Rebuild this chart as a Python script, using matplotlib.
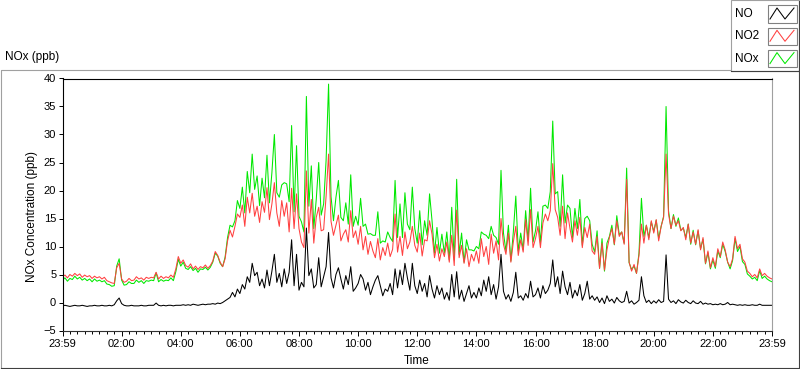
import numpy as np
import matplotlib
matplotlib.use("Agg")
import matplotlib.pyplot as plt
from matplotlib.lines import Line2D
from matplotlib.patches import Rectangle

plt.rcParams['font.family'] = ['Liberation Sans', 'DejaVu Sans']

W, H = 800, 369

# 5 minute readings, 23:59 -> 23:59 (ppb)
no2 = [
    4.6, 4.9, 4.4, 5.0, 4.7, 5.2, 4.8, 5.1, 4.5, 4.9, 4.6, 4.8,
    4.3, 4.7, 4.4, 4.6, 4.2, 4.5, 3.9, 3.7, 3.5, 3.4, 6.2, 7.0,
    4.2, 3.6, 3.8, 4.3, 3.9, 4.0, 4.6, 4.2, 4.4, 4.0, 4.5, 4.3,
    4.5, 4.4, 5.4, 4.2, 4.7, 4.3, 4.6, 4.4, 4.9, 4.5, 6.0, 8.2,
    7.0, 7.6, 6.6, 6.3, 6.9, 6.0, 6.5, 5.9, 6.4, 6.2, 6.7, 6.1,
    6.6, 7.4, 9.1, 8.4, 7.2, 6.4, 7.8, 11.0, 12.9, 11.7, 13.6, 15.8,
    15.2, 17.4, 13.6, 18.8, 16.0, 19.5, 15.4, 17.2, 14.3, 18.0, 16.1, 20.5,
    14.8, 17.6, 21.4, 16.0, 13.6, 18.2, 15.4, 17.8, 12.6, 20.4, 13.2, 19.4,
    13.2, 10.8, 9.8, 23.5, 12.4, 18.4, 10.6, 15.2, 17.0, 12.8, 13.0, 19.0,
    26.5, 14.5, 12.0, 13.8, 15.6, 11.0, 12.2, 13.0, 10.8, 16.4, 11.6, 12.8,
    10.4, 13.6, 9.4, 11.8, 8.6, 10.9, 9.2, 8.0, 11.4, 7.6, 9.8, 8.4,
    10.6, 8.2, 9.5, 15.8, 9.0, 11.8, 8.4, 12.6, 9.6, 10.8, 13.6, 10.2,
    9.0, 12.4, 8.3, 11.2, 11.0, 14.6, 12.2, 8.0, 10.4, 7.4, 9.6, 8.2,
    10.8, 7.2, 12.0, 6.6, 16.5, 8.0, 10.2, 7.0, 9.6, 6.4, 8.6, 7.4,
    9.2, 7.0, 11.4, 8.2, 10.0, 6.8, 12.2, 8.8, 11.0, 7.6, 15.0, 10.4,
    8.6, 12.4, 7.2, 10.8, 13.6, 8.4, 11.2, 9.0, 14.8, 10.2, 16.6, 9.8,
    11.4, 13.6, 9.8, 14.2, 15.8, 14.6, 16.4, 24.8, 16.6, 15.2, 12.0, 17.2,
    11.4, 16.0, 13.2, 10.8, 14.6, 12.0, 15.2, 9.8, 13.4, 11.6, 14.0, 9.2,
    8.6, 11.8, 6.1, 10.6, 5.8, 9.4, 11.6, 13.2, 10.4, 14.6, 11.8, 12.6,
    10.4, 22.0, 7.2, 5.6, 6.8, 5.2, 8.4, 14.0, 10.6, 13.8, 11.2, 14.6,
    12.4, 14.8, 11.0, 13.6, 15.2, 26.5, 15.8, 13.2, 15.4, 13.8, 14.6, 12.8,
    13.4, 11.2, 14.0, 10.6, 12.6, 10.4, 13.0, 9.4, 11.6, 7.0, 9.2, 6.2,
    8.0, 6.4, 9.6, 8.2, 10.8, 9.4, 7.2, 6.4, 7.8, 11.8, 9.6, 10.4,
    7.8, 7.2, 5.6, 5.2, 4.6, 5.0, 4.4, 6.0, 4.8, 5.2, 4.7, 4.4,
    4.2]

no = [
    -0.6, -0.5, -0.6, -0.7, -0.6, -0.5, -0.6, -0.6, -0.5, -0.6, -0.7, -0.6,
    -0.6, -0.5, -0.6, -0.6, -0.5, -0.6, -0.6, -0.5, -0.6, -0.4, 0.3, 0.8,
    -0.2, -0.5, -0.6, -0.6, -0.5, -0.6, -0.6, -0.6, -0.5, -0.6, -0.6, -0.5,
    -0.5, -0.5, -0.1, -0.5, -0.6, -0.5, -0.6, -0.5, -0.5, -0.6, -0.5, -0.5,
    -0.5, -0.4, -0.5, -0.4, -0.5, -0.3, -0.4, -0.5, -0.4, -0.3, -0.4, -0.3,
    -0.3, -0.2, -0.3, -0.1, -0.2, 0.0, 0.3, 0.6, 0.9, 1.8, 1.0, 2.4,
    1.6, 3.2, 2.4, 4.6, 3.6, 7.0, 4.8, 5.4, 3.0, 4.2, 2.6, 5.8,
    3.0, 5.6, 8.6, 3.6, 5.2, 2.8, 6.0, 3.4, 5.4, 11.2, 3.0, 8.6,
    2.2, 3.6, 2.8, 13.3, 4.8, 6.0, 2.6, 3.2, 8.0, 2.8, 4.6, 6.4,
    12.5, 4.4, 2.6, 5.0, 6.2, 4.2, 2.4, 4.8, 3.2, 6.4, 2.0, 2.6,
    3.4, 5.0, 4.2, 2.2, 3.6, 1.4, 2.8, 4.0, 4.8, 3.0, 1.2, 2.4,
    2.0, 3.4, 1.4, 6.0, 2.6, 5.8, 3.2, 7.0, 4.4, 2.2, 7.0, 3.0,
    1.6, 4.0, 2.0, 3.4, 1.0, 4.8, 2.4, 0.8, 3.0, 1.4, 2.6, 0.6,
    1.8, 0.4, 5.0, 1.0, 5.5, 0.6, 2.2, 0.2, 1.6, 3.0, 0.8, 1.8,
    0.8, 2.6, 1.2, 4.0, 2.0, 4.6, 1.4, 3.2, 0.6, 2.8, 8.6, 2.0,
    0.6, 1.4, 0.2, 1.8, 5.4, 0.8, 1.2, 0.4, 1.6, 0.8, 3.8, 1.0,
    1.4, 2.6, 0.8, 3.0, 1.6, 2.2, 3.4, 7.6, 2.8, 4.6, 1.6, 5.6,
    2.8, 1.4, 3.6, 0.8, 2.2, 1.2, 3.2, 0.4, 1.6, 3.8, 0.6, 1.2,
    0.4, 1.0, 0.0, 0.8, -0.2, 1.2, 0.2, 0.6, -0.1, 0.9, 0.3, 0.0,
    0.2, 2.0, -0.1, 0.3, -0.3, 0.0, 0.4, 4.6, 1.2, 0.0, 0.4, -0.2,
    0.3, -0.1, 0.5, 0.0, 0.2, 8.5, 0.6, 0.0, 0.3, -0.2, 0.5, 0.1,
    -0.1, 0.4, 0.0, -0.2, 0.3, -0.1, -0.2, 0.2, -0.3, -0.1, -0.3, -0.2,
    -0.4, -0.3, -0.4, -0.2, -0.4, -0.3, 0.0, -0.4, -0.3, -0.4, -0.5, -0.4,
    -0.5, -0.4, -0.5, -0.5, -0.4, -0.5, -0.5, -0.3, -0.5, -0.5, -0.5, -0.5,
    -0.5]

nox = [
    4.0, 4.4, 3.8, 4.3, 4.1, 4.7, 4.2, 4.5, 4.0, 4.3, 3.9, 4.2,
    3.7, 4.2, 3.8, 4.0, 3.7, 3.9, 3.3, 3.2, 2.9, 3.0, 6.5, 7.8,
    4.0, 3.1, 3.2, 3.7, 3.4, 3.4, 4.0, 3.6, 3.9, 3.4, 3.9, 3.8,
    4.0, 3.9, 5.3, 3.7, 4.1, 3.8, 4.0, 3.9, 4.4, 3.9, 5.5, 7.7,
    6.5, 7.2, 6.1, 5.9, 6.4, 5.7, 6.1, 5.4, 6.0, 5.9, 6.3, 5.8,
    6.3, 7.2, 8.8, 8.3, 7.0, 6.4, 8.1, 11.6, 13.8, 13.5, 14.6, 18.2,
    16.8, 20.6, 16.0, 23.4, 19.6, 26.5, 20.2, 22.6, 17.3, 22.2, 18.7, 26.3,
    17.8, 23.2, 30.0, 19.6, 18.8, 21.0, 21.4, 21.2, 18.0, 31.6, 16.2, 28.0,
    15.4, 14.4, 12.6, 36.8, 17.2, 24.4, 13.2, 18.4, 25.0, 15.6, 17.6, 25.4,
    39.0, 18.9, 14.6, 18.8, 21.8, 15.2, 14.6, 17.8, 14.0, 22.8, 13.6, 15.4,
    13.8, 18.6, 13.6, 14.0, 12.2, 12.3, 12.0, 12.0, 16.2, 10.6, 11.0, 10.8,
    12.6, 11.6, 10.9, 21.8, 11.6, 17.6, 11.6, 19.6, 14.0, 13.0, 20.6, 13.2,
    10.6, 16.4, 10.3, 14.6, 12.0, 19.4, 14.6, 8.8, 13.4, 8.8, 12.2, 8.8,
    12.6, 7.6, 17.0, 7.6, 22.0, 8.6, 12.4, 7.2, 11.2, 9.4, 9.4, 9.2,
    10.0, 9.6, 12.6, 12.2, 12.0, 11.4, 13.6, 12.0, 11.6, 10.4, 23.6, 12.4,
    9.2, 13.8, 7.4, 12.6, 19.0, 9.2, 12.4, 9.4, 16.4, 11.0, 20.4, 10.8,
    12.8, 16.2, 10.6, 17.2, 17.4, 16.8, 19.8, 32.4, 19.4, 19.8, 13.6, 22.8,
    14.2, 17.4, 16.8, 11.6, 16.8, 13.2, 18.4, 10.2, 15.0, 15.4, 14.6, 10.4,
    9.0, 12.8, 6.1, 11.4, 5.6, 10.6, 11.8, 13.8, 10.3, 15.5, 12.1, 12.6,
    10.6, 24.0, 7.1, 5.9, 6.5, 5.2, 8.8, 18.6, 11.8, 13.8, 11.6, 14.4,
    12.7, 14.7, 11.5, 13.6, 15.4, 35.0, 16.4, 13.2, 15.7, 13.6, 15.1, 12.9,
    13.3, 11.6, 14.0, 10.4, 12.9, 10.3, 12.8, 9.6, 11.3, 6.9, 8.9, 6.0,
    7.6, 6.1, 9.2, 8.0, 10.4, 9.1, 7.2, 6.0, 7.5, 11.4, 9.1, 10.0,
    7.3, 6.8, 5.1, 4.7, 4.2, 4.5, 3.9, 5.7, 4.3, 4.7, 4.2, 3.9,
    3.7]

tick_hours = list(range(0, 25, 2))
tick_labels = ['23:59', '02:00', '04:00', '06:00', '08:00', '10:00', '12:00',
               '14:00', '16:00', '18:00', '20:00', '22:00', '23:59']
names = ['NO', 'NO2', 'NOx']
colors = ['#000000', '#ff4040', '#00e800']


def fx(px):
    return px / W


def fy(py):
    return 1 - py / H


fig = plt.figure(figsize=(W / 100, H / 100), dpi=100)
fig.patch.set_facecolor('white')

# outer panel frame (light top/left, dark bottom/right)
fig.add_artist(Line2D([fx(1), fx(1), fx(731)], [fy(367.5), fy(69.5), fy(69.5)],
                      transform=fig.transFigure, color='#a0a0a0', lw=0.8))
fig.add_artist(Line2D([fx(1), fx(798.5), fx(798.5)], [fy(367.5), fy(367.5), fy(70)],
                      transform=fig.transFigure, color='#404040', lw=0.8))

ax = fig.add_axes([fx(62.5), fy(330.5), fx(772) - fx(62.5), fy(78.5) - fy(330.5)])
t = np.arange(len(no2)) / 12.0
ax.plot(t, nox, color=colors[2], lw=0.75)
ax.plot(t, no2, color=colors[1], lw=0.75)
ax.plot(t, no, color=colors[0], lw=0.75)

ax.set_xlim(0, 24)
ax.set_ylim(-5, 40)
ax.set_xticks(tick_hours)
ax.set_xticklabels(tick_labels)
ax.set_xticks(np.arange(0, 24.01, 0.25), minor=True)
ax.set_yticks(range(-5, 41, 5))
ax.tick_params(axis='x', which='major', direction='out', length=3.8, width=0.7,
               pad=2.5, labelsize=8, colors='#000000')
ax.tick_params(axis='x', which='minor', direction='out', length=2.3, width=0.7)
ax.tick_params(axis='y', which='major', direction='out', length=3.0, width=0.7,
               pad=1.5, labelsize=8, colors='#000000')
for side, col in [('left', '#000000'), ('top', '#000000'),
                  ('bottom', '#303030'), ('right', '#a0a0a0')]:
    ax.spines[side].set_color(col)
    ax.spines[side].set_linewidth(0.8)

fig.text(fx(417), fy(361), 'Time', ha='center', va='center', fontsize=8.5)
fig.text(fx(32), fy(216), 'NOx Concentration (ppb)', ha='center', va='center',
         rotation=90, fontsize=8.5)
fig.text(fx(5), fy(57), 'NOx (ppb)', ha='left', va='center', fontsize=8.5)

# legend panel
fig.add_artist(Rectangle((fx(731), fy(70.5)), fx(799) - fx(731), fy(0.5) - fy(70.5),
                         transform=fig.transFigure, facecolor='white',
                         edgecolor='#a0a0a0', lw=0.8))
fig.add_artist(Line2D([fx(731), fx(799), fx(799)], [fy(70.5), fy(70.5), fy(0.5)],
                      transform=fig.transFigure, color='#404040', lw=0.8))
for k, (name, col) in enumerate(zip(names, colors)):
    yc = 14 + k * 22.3
    fig.text(fx(735), fy(yc), name, ha='left', va='center', fontsize=8.5)
    fig.add_artist(Rectangle((fx(767.5), fy(yc + 8.5)), fx(797) - fx(767.5),
                             fy(yc - 8.5) - fy(yc + 8.5), transform=fig.transFigure,
                             facecolor='white', edgecolor='#808080', lw=0.8))
    zx = [770, 777, 785, 794]
    zy = [yc + 5, yc - 6, yc + 5, yc - 6]
    fig.add_artist(Line2D([fx(v) for v in zx], [fy(v) for v in zy],
                          transform=fig.transFigure, color=col, lw=0.75))

fig.savefig('out.png', dpi=100, facecolor='white')
